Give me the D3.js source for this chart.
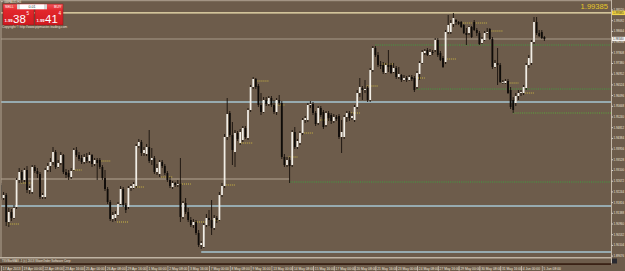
<!DOCTYPE html>
<html>
<head>
<meta charset="utf-8">
<script src="https://cdn.jsdelivr.net/npm/d3@7"></script>
<style>
body { margin: 0; background: #6d5c4b; }
svg { display: block; font-family: "Liberation Sans", Arial, sans-serif; }
</style>
</head>
<body>
<div class="content"></div>
<script>
var width = 625;
var height = 271;

// chart data (H4 bars)
var symbol = "GBPAUD,H4";
var opens = [1.9250,1.9198,1.9210,1.9102,1.9142,1.9118,1.9162,1.9270,1.9302,1.9270,1.9310,1.9230,1.9222,1.9322,1.9306,1.9294,1.9202,1.9202,1.9310,1.9326,
1.9342,1.9382,1.9322,1.9338,1.9370,1.9302,1.9298,1.9282,1.9310,1.9390,1.9370,1.9358,1.9342,1.9362,1.9346,1.9370,1.9334,1.9350,1.9350,1.9322,
1.9278,1.9234,1.9182,1.9114,1.9118,1.9130,1.9174,1.9234,1.9170,1.9162,1.9238,1.9238,1.9246,1.9406,1.9422,1.9378,1.9374,1.9402,1.9350,1.9358,
1.9302,1.9294,1.9342,1.9326,1.9298,1.9270,1.9242,1.9258,1.9250,1.9254,1.9122,1.9178,1.9142,1.9110,1.9090,1.9102,1.9058,1.9010,1.9002,1.9090,
1.9118,1.9110,1.9078,1.9118,1.9110,1.9210,1.9246,1.9442,1.9538,1.9450,1.9382,1.9458,1.9418,1.9430,1.9478,1.9438,1.9550,1.9642,1.9674,1.9646,
1.9570,1.9542,1.9590,1.9574,1.9598,1.9570,1.9542,1.9590,1.9578,1.9362,1.9330,1.9350,1.9330,1.9462,1.9402,1.9418,1.9458,1.9510,1.9510,1.9570,
1.9574,1.9538,1.9498,1.9558,1.9542,1.9490,1.9538,1.9530,1.9506,1.9522,1.9526,1.9442,1.9442,1.9522,1.9538,1.9518,1.9510,1.9562,1.9618,1.9638,
1.9630,1.9638,1.9590,1.9710,1.9798,1.9770,1.9730,1.9730,1.9698,1.9730,1.9730,1.9702,1.9718,1.9682,1.9690,1.9670,1.9678,1.9670,1.9682,1.9678,
1.9642,1.9694,1.9738,1.9778,1.9790,1.9770,1.9782,1.9790,1.9830,1.9778,1.9758,1.9742,1.9862,1.9862,1.9894,1.9910,1.9902,1.9902,1.9890,1.9858,
1.9858,1.9882,1.9902,1.9870,1.9858,1.9818,1.9830,1.9858,1.9874,1.9834,1.9722,1.9738,1.9730,1.9662,1.9658,1.9666,1.9630,1.9590,1.9578,1.9606,
1.9618,1.9618,1.9638,1.9730,1.9738,1.9822,1.9902,1.9858,1.9862,1.9842];
var highs = [1.9258,1.9222,1.9218,1.9158,1.9154,1.9170,1.9278,1.9318,1.9310,1.9318,1.9326,1.9246,1.9330,1.9330,1.9318,1.9302,1.9218,1.9318,1.9338,1.9358,
1.9402,1.9390,1.9350,1.9382,1.9374,1.9314,1.9310,1.9318,1.9398,1.9402,1.9382,1.9370,1.9374,1.9378,1.9382,1.9374,1.9358,1.9358,1.9358,1.9330,
1.9310,1.9242,1.9190,1.9142,1.9146,1.9182,1.9246,1.9242,1.9178,1.9246,1.9254,1.9262,1.9414,1.9434,1.9430,1.9402,1.9414,1.9470,1.9398,1.9366,
1.9334,1.9350,1.9350,1.9334,1.9306,1.9282,1.9266,1.9262,1.9270,1.9358,1.9186,1.9198,1.9158,1.9122,1.9114,1.9110,1.9070,1.9026,1.9098,1.9134,
1.9150,1.9190,1.9130,1.9126,1.9222,1.9258,1.9454,1.9598,1.9546,1.9502,1.9470,1.9466,1.9474,1.9486,1.9486,1.9558,1.9650,1.9682,1.9678,1.9654,
1.9618,1.9602,1.9602,1.9606,1.9606,1.9590,1.9598,1.9610,1.9586,1.9374,1.9362,1.9362,1.9470,1.9482,1.9434,1.9466,1.9518,1.9526,1.9578,1.9586,
1.9582,1.9546,1.9566,1.9566,1.9550,1.9546,1.9546,1.9538,1.9534,1.9530,1.9534,1.9510,1.9530,1.9546,1.9546,1.9538,1.9570,1.9630,1.9678,1.9646,
1.9670,1.9646,1.9718,1.9806,1.9806,1.9782,1.9746,1.9742,1.9738,1.9790,1.9738,1.9738,1.9726,1.9722,1.9694,1.9690,1.9686,1.9690,1.9690,1.9686,
1.9706,1.9746,1.9790,1.9794,1.9798,1.9794,1.9790,1.9838,1.9838,1.9786,1.9766,1.9870,1.9930,1.9910,1.9938,1.9914,1.9906,1.9906,1.9894,1.9878,
1.9886,1.9886,1.9910,1.9878,1.9866,1.9842,1.9866,1.9878,1.9878,1.9842,1.9750,1.9798,1.9738,1.9670,1.9674,1.9674,1.9642,1.9602,1.9618,1.9630,
1.9630,1.9650,1.9738,1.9770,1.9830,1.9922,1.9922,1.9870,1.9870,1.9846];
var lows = [1.9190,1.9190,1.9086,1.9082,1.9106,1.9114,1.9154,1.9258,1.9258,1.9262,1.9218,1.9214,1.9214,1.9298,1.9278,1.9194,1.9194,1.9194,1.9302,1.9302,
1.9330,1.9314,1.9318,1.9330,1.9294,1.9278,1.9270,1.9274,1.9306,1.9362,1.9346,1.9334,1.9334,1.9338,1.9338,1.9322,1.9326,1.9270,1.9314,1.9270,
1.9226,1.9174,1.9106,1.9102,1.9106,1.9126,1.9170,1.9162,1.9138,1.9154,1.9226,1.9234,1.9238,1.9398,1.9366,1.9366,1.9366,1.9338,1.9330,1.9294,
1.9290,1.9282,1.9318,1.9290,1.9262,1.9238,1.9234,1.9242,1.9242,1.9102,1.9114,1.9134,1.9102,1.9082,1.9078,1.9050,1.9002,1.8994,1.8998,1.9082,
1.9086,1.9050,1.9070,1.9098,1.9106,1.9202,1.9238,1.9430,1.9442,1.9330,1.9322,1.9426,1.9410,1.9422,1.9434,1.9430,1.9542,1.9634,1.9634,1.9562,
1.9530,1.9538,1.9566,1.9566,1.9562,1.9534,1.9530,1.9570,1.9354,1.9322,1.9322,1.9258,1.9322,1.9394,1.9394,1.9410,1.9450,1.9498,1.9502,1.9558,
1.9530,1.9486,1.9490,1.9522,1.9474,1.9482,1.9506,1.9494,1.9498,1.9506,1.9434,1.9378,1.9434,1.9502,1.9506,1.9510,1.9502,1.9554,1.9602,1.9590,
1.9618,1.9582,1.9582,1.9702,1.9762,1.9722,1.9714,1.9694,1.9694,1.9702,1.9694,1.9698,1.9674,1.9674,1.9662,1.9666,1.9662,1.9666,1.9666,1.9622,
1.9634,1.9670,1.9734,1.9770,1.9766,1.9766,1.9770,1.9782,1.9762,1.9746,1.9718,1.9734,1.9854,1.9854,1.9882,1.9890,1.9890,1.9878,1.9854,1.9810,
1.9850,1.9838,1.9866,1.9846,1.9810,1.9814,1.9826,1.9854,1.9830,1.9714,1.9718,1.9650,1.9658,1.9654,1.9654,1.9614,1.9554,1.9538,1.9566,1.9590,
1.9606,1.9610,1.9630,1.9718,1.9730,1.9814,1.9850,1.9842,1.9834,1.9826];
var closes = [1.9198,1.9210,1.9102,1.9142,1.9118,1.9158,1.9270,1.9302,1.9270,1.9310,1.9230,1.9238,1.9322,1.9306,1.9294,1.9202,1.9210,1.9310,1.9326,1.9342,
1.9382,1.9322,1.9338,1.9370,1.9302,1.9290,1.9282,1.9306,1.9390,1.9370,1.9354,1.9342,1.9362,1.9346,1.9370,1.9334,1.9350,1.9338,1.9322,1.9278,
1.9234,1.9182,1.9114,1.9130,1.9134,1.9174,1.9234,1.9170,1.9150,1.9238,1.9246,1.9254,1.9406,1.9422,1.9378,1.9390,1.9402,1.9346,1.9358,1.9302,
1.9318,1.9342,1.9326,1.9298,1.9270,1.9246,1.9258,1.9250,1.9254,1.9122,1.9178,1.9142,1.9110,1.9090,1.9102,1.9058,1.9010,1.9018,1.9090,1.9118,
1.9110,1.9078,1.9118,1.9110,1.9210,1.9246,1.9442,1.9534,1.9450,1.9390,1.9458,1.9434,1.9462,1.9478,1.9442,1.9550,1.9642,1.9674,1.9642,1.9570,
1.9542,1.9590,1.9574,1.9598,1.9570,1.9542,1.9590,1.9578,1.9362,1.9330,1.9350,1.9326,1.9462,1.9402,1.9426,1.9458,1.9510,1.9518,1.9570,1.9574,
1.9538,1.9494,1.9558,1.9530,1.9482,1.9538,1.9518,1.9506,1.9522,1.9514,1.9442,1.9462,1.9522,1.9538,1.9518,1.9526,1.9562,1.9618,1.9642,1.9630,
1.9634,1.9590,1.9710,1.9798,1.9770,1.9730,1.9726,1.9702,1.9730,1.9722,1.9698,1.9718,1.9682,1.9694,1.9670,1.9678,1.9670,1.9682,1.9674,1.9630,
1.9698,1.9738,1.9782,1.9786,1.9770,1.9782,1.9778,1.9830,1.9770,1.9750,1.9722,1.9862,1.9890,1.9898,1.9918,1.9902,1.9894,1.9882,1.9858,1.9850,
1.9882,1.9842,1.9870,1.9858,1.9814,1.9834,1.9858,1.9862,1.9834,1.9722,1.9738,1.9730,1.9662,1.9662,1.9666,1.9618,1.9562,1.9550,1.9606,1.9618,
1.9622,1.9642,1.9730,1.9758,1.9822,1.9902,1.9858,1.9846,1.9838,1.9834];

var timeLabels = ["17 Apr 2013","19 Apr 00:00","22 Apr 08:00","23 Apr 16:00","25 Apr 00:00","26 Apr 08:00","29 Apr 16:00","1 May 00:00","2 May 08:00",
"3 May 16:00","7 May 00:00","8 May 08:00","9 May 16:00","13 May 00:00","14 May 08:00","15 May 16:00","17 May 00:00","20 May 08:00",
"21 May 16:00","23 May 00:00","24 May 08:00","27 May 16:00","29 May 00:00","30 May 08:00","31 May 16:00","4 Jun 00:00","5 Jun 08:00"];
var barsPerLabel = 8;
var priceTicks = [1.99520,1.99092,1.98664,1.98236,1.97808,1.97380,1.96952,1.96524,1.96096,1.95668,1.95240,1.94812,
1.94384,1.93956,1.93528,1.93100,1.92672,1.92244,1.91816,1.91388,1.90960,1.90532,1.90104,1.89676];

var sellQuote = ["1.99", "38", "5"];
var buyQuote = ["1.99", "41", "4"];
var lotSize = "0.01";
var alertLevel = 1.99385;
var lastLevel = closes[closes.length - 1];
var blueLevels = [1.9582, 1.9166, 1.8982];
var blueFrom = [0, 0, 77];
var greenLevels = [1.9810, 1.9634, 1.9538, 1.9262];
var greenFrom = [144, 160, 197, 111];
var pivotLevel = 1.9274;
var pivotTo = 111;
var markBars = [3,8,28,39,45,52,62,70,75,82,87,92,99,106,111,117,123,135,141,147,160,172,178,183,189,196,202];
var markPrices = [1.9094,1.9258,1.9310,1.9346,1.9102,1.9242,1.9282,1.9254,1.9102,1.9110,1.9250,1.9418,1.9666,1.9570,1.9362,
1.9458,1.9510,1.9538,1.9646,1.9734,1.9678,1.9754,1.9898,1.9898,1.9866,1.9658,1.9618];
var markLens = [4,4,3,3,4,3,4,3,4,2,3,5,4,3,3,3,3,3,4,4,3,3,3,4,4,3,3];

var plotRight = 611.5, plotBottom = 257;
var x = d3.scaleLinear().domain([0, 240]).range([1, 625]);
var y = d3.scaleLinear().domain([1.8962, 1.9990]).range([plotBottom, 0]);

var svg = d3.select(".content").append("svg").attr("width", width).attr("height", height);
svg.append("rect").attr("width", width).attr("height", height).attr("fill", "#6d5c4b");

var plot = svg.append("g");
plot.append("clipPath").attr("id", "pc").append("rect").attr("x", 1).attr("y", 1).attr("width", plotRight - 1).attr("height", plotBottom - 1);
var lines = plot.append("g").attr("clip-path", "url(#pc)");

// horizontal levels
function hline(p, x0, x1, color, w, dash) {
  var l = lines.append("line").attr("x1", x0).attr("x2", x1).attr("y1", y(p)).attr("y2", y(p))
    .attr("stroke", color).attr("stroke-width", w);
  if (dash) l.attr("stroke-dasharray", dash);
}
hline(alertLevel, 1, plotRight, "#f4e6b4", 1.3);
hline(lastLevel, 1, plotRight, "#a89a8a", 1);
hline(pivotLevel, 1, x(pivotTo), "#b4a594", 1);
blueLevels.forEach(function(p, i){ hline(p, x(blueFrom[i]), plotRight, "#a6c6d2", 1.4); });
greenLevels.forEach(function(p, i){
  var c = i == 2 ? "#5f9040" : "#3fa040";
  hline(p, x(greenFrom[i]), plotRight, c, i == 2 ? 1.6 : 1, "1,1.2");
});
markBars.forEach(function(b, i){
  hline(markPrices[i], x(b) - 1, x(b + markLens[i]), "#cdb844", 1, "1,1");
});

// candles
var candles = lines.selectAll("g.c").data(closes).enter().append("g");
candles.append("line")
  .attr("x1", function(d,i){ return x(i); }).attr("x2", function(d,i){ return x(i); })
  .attr("y1", function(d,i){ return y(highs[i]); }).attr("y2", function(d,i){ return y(lows[i]); })
  .attr("stroke", "#17110c").attr("stroke-width", 0.9);
candles.append("rect")
  .attr("x", function(d,i){ return x(i) - 0.9; }).attr("width", 1.8)
  .attr("y", function(d,i){ return y(Math.max(opens[i], d)); })
  .attr("height", function(d,i){ return Math.max(0.8, Math.abs(y(opens[i]) - y(d))); })
  .attr("fill", function(d,i){ return d >= opens[i] ? "#f2eee6" : "#0e0b08"; });

// frame
svg.append("line").attr("x1", 0).attr("x2", plotRight).attr("y1", 0.7).attr("y2", 0.7).attr("stroke", "#b0a292").attr("stroke-width", 1);
svg.append("line").attr("x1", 1).attr("x2", 1).attr("y1", 0).attr("y2", plotBottom).attr("stroke", "#b0a292").attr("stroke-width", 1);
svg.append("line").attr("x1", plotRight).attr("x2", plotRight).attr("y1", 0).attr("y2", 265).attr("stroke", "#c4b8a8").attr("stroke-width", 1);
svg.append("line").attr("x1", 0).attr("x2", plotRight).attr("y1", plotBottom + 0.8).attr("y2", plotBottom + 0.8).attr("stroke", "#c0b4a4").attr("stroke-width", 1.6);

// price axis
var yAxis = svg.append("g").attr("transform", "translate(" + plotRight + ",0)")
  .call(d3.axisRight(y).tickValues(priceTicks).tickFormat(d3.format(".5f")).tickSize(1.5).tickPadding(0.6));
yAxis.select(".domain").remove();
yAxis.selectAll("line").attr("stroke", "#d8d0c4");
yAxis.selectAll("text").attr("fill", "#eee6dc").attr("font-size", 2.9).attr("font-family", "Liberation Sans, Arial");

function axisTag(p, bg, fg) {
  var g = svg.append("g").attr("transform", "translate(" + plotRight + "," + y(p) + ")");
  g.append("rect").attr("x", 0.5).attr("y", -2.2).attr("width", 13).attr("height", 4.4).attr("fill", bg);
  g.append("text").attr("x", 1.6).attr("y", 1.1).attr("font-size", 2.9).attr("fill", fg).text(d3.format(".5f")(p));
}
axisTag(alertLevel, "#f2d648", "#3a3010");
axisTag(lastLevel, "#f4f2ee", "#333");

// top-right quote
svg.append("text").attr("x", 608).attr("y", 9.3).attr("text-anchor", "end").attr("font-size", 7.6)
  .attr("fill", "#e6c628").text(d3.format(".5f")(alertLevel));

// indicator sub-window strip
svg.append("rect").attr("x", 0).attr("y", 263.2).attr("width", plotRight).attr("height", 1.8).attr("fill", "#3a2216");
svg.append("text").attr("x", 2).attr("y", 262.4).attr("font-size", 3).attr("fill", "#ece4da")
  .text("TSVBarMAX -1  (c) 2013 WaveOrder Software Corp");
svg.append("rect").attr("x", 612).attr("y", 258.5).attr("width", 5).attr("height", 5).attr("fill", "#2a2a30");

// time axis
var tIdx = timeLabels.map(function(d, j){ return j * barsPerLabel; });
var xAxis = svg.append("g").attr("transform", "translate(0,266)")
  .call(d3.axisBottom(x).tickValues(tIdx).tickFormat(function(d, j){ return timeLabels[j]; }).tickSize(5).tickPadding(-3.8));
xAxis.select(".domain").remove();
xAxis.selectAll("line").attr("stroke", "#d8d0c4").attr("stroke-width", 0.6);
xAxis.selectAll("text").attr("text-anchor", "start").attr("dx", 1.3).attr("fill", "#f0e8de")
  .attr("font-size", 3.3).attr("font-family", "Liberation Sans, Arial");

// one-click trading panel
var defs = svg.append("defs");
var gr = defs.append("linearGradient").attr("id", "red").attr("x1", 0).attr("x2", 0).attr("y1", 0).attr("y2", 1);
gr.append("stop").attr("offset", "0%").attr("stop-color", "#f2575a");
gr.append("stop").attr("offset", "30%").attr("stop-color", "#e3272c");
gr.append("stop").attr("offset", "100%").attr("stop-color", "#d01a20");
var panel = svg.append("g");
panel.append("rect").attr("x", 3).attr("y", 4).attr("width", 31).attr("height", 21).attr("fill", "url(#red)").attr("stroke", "#8e1414").attr("stroke-width", 0.5);
panel.append("rect").attr("x", 35).attr("y", 4).attr("width", 28).attr("height", 21).attr("fill", "url(#red)").attr("stroke", "#8e1414").attr("stroke-width", 0.5);
panel.append("rect").attr("x", 17).attr("y", 4.3).attr("width", 3).attr("height", 5).attr("fill", "#d8d8d8");
panel.append("rect").attr("x", 44).attr("y", 4.3).attr("width", 3).attr("height", 5).attr("fill", "#d8d8d8");
panel.append("rect").attr("x", 20).attr("y", 4.3).attr("width", 24).attr("height", 5).attr("fill", "#ffffff");
panel.append("text").attr("x", 32).attr("y", 8.2).attr("text-anchor", "middle").attr("font-size", 3.6).attr("fill", "#333").text(lotSize);
panel.append("text").attr("x", 5).attr("y", 8.3).attr("font-size", 3.6).attr("fill", "#fff").text("SELL");
panel.append("text").attr("x", 54).attr("y", 8.3).attr("font-size", 3.6).attr("fill", "#fff").text("BUY");
[[sellQuote, 4.5], [buyQuote, 36.5]].forEach(function(q){
  var s = q[0], x0 = q[1];
  panel.append("text").attr("x", x0).attr("y", 22).attr("font-size", 4.2).attr("font-weight", "bold").attr("fill", "#fff").text(s[0]);
  panel.append("text").attr("x", x0 + 8.5).attr("y", 22.6).attr("font-size", 11.5).attr("fill", "#fff").text(s[1]);
  panel.append("text").attr("x", x0 + 22).attr("y", 14.8).attr("font-size", 4.6).attr("fill", "#fff").text(s[2]);
});
svg.append("text").attr("x", 2).attr("y", 28.2).attr("font-size", 3.2).attr("fill", "#ece4da").text("Copyright © http://www.pipmaster-trading.com");
svg.append("path").attr("d", "M1,1.2L3,1.2L2,2.6Z").attr("fill", "#e8e0d4");
svg.append("text").attr("x", 4).attr("y", 2.9).attr("font-size", 3).attr("fill", "#ece4da").text(symbol);
</script>
</body>
</html>
